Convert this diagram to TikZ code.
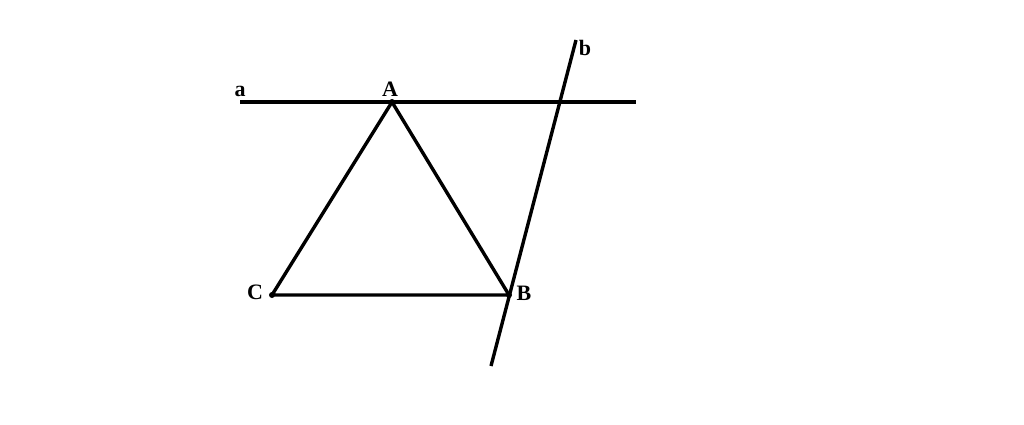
\documentclass[tikz,border=0pt]{standalone}
\usepackage{fontspec}
\setmainfont{Liberation Serif}
\tikzstyle{seg} = [draw=black, line width=3.4pt]
\tikzstyle{pt} = [circle, fill=black, inner sep=0pt, minimum size=6pt]
\tikzstyle{lbl} = [inner sep=0pt, anchor=base, font={\fontsize{22}{26}\selectfont\bfseries}]
\begin{document}
\begin{tikzpicture}[x=1pt,y=-1pt]
        \useasboundingbox (0,0) rectangle (1024,425);
        \coordinate (a1) at (240,102);
        \coordinate (a2) at (636,102);
        \coordinate (b1) at (576,40);
        \coordinate (b2) at (491,366);
        \node[pt](A) at (392,102){};
        \node[pt](C) at (272,295){};
        \node[pt](B) at (509,295){};
        \draw[seg](a1)--(a2);
        \draw[seg](b1)--(b2);
        \draw[seg,line join=round](A.center)--(B.center)--(C.center)--cycle;
        \node[lbl](la) at (240,96){a};
        \node[lbl](lA) at (390,96){A};
        \node[lbl](lb) at (585,56){b};
        \node[lbl](lC) at (255,299){C};
        \node[lbl](lB) at (524,300){B};
      \end{tikzpicture}
\end{document}
